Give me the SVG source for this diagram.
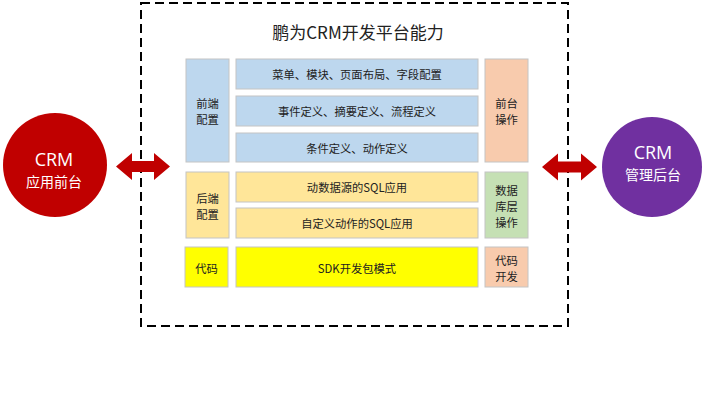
<svg xmlns="http://www.w3.org/2000/svg" width="708" height="420" viewBox="0 0 708 420">
<style>
text{font-family:"Noto Sans CJK SC","Microsoft YaHei","Noto Sans",sans-serif;text-anchor:middle;dominant-baseline:central}
.t{font-size:11.3px;fill:#222}
.box{stroke:#C4C4C4;stroke-width:1}
.blue{fill:#BDD7EE}
.peach{fill:#F8CBAD}
.orange{fill:#FFE699}
.green{fill:#C5E0B4}
.yellow{fill:#FFFF00}
.arrow{fill:#C00000}
.w1{font-size:18px;fill:#fff;font-family:"Open Sans","Noto Sans",sans-serif}
.w2{font-size:14px;fill:#fff}
</style>
<rect width="708" height="420" fill="#fff"/>
<g id="platform">
<rect x="141" y="3" width="427" height="323" fill="none" stroke="#000" stroke-width="2" stroke-dasharray="9 5"/>
<text x="358" y="31" style="font-size:17px;fill:#222">鹏为CRM开发平台能力</text>
</g>
<g id="front-config">
<rect class="box blue" x="186" y="59" width="43" height="103"/>
<text class="t" x="207.5" y="103">前端</text>
<text class="t" x="207.5" y="119">配置</text>
</g>
<g id="menu">
<rect class="box blue" x="236" y="59" width="242" height="30"/>
<text class="t" x="357" y="74">菜单、模块、页面布局、字段配置</text>
</g>
<g id="event">
<rect class="box blue" x="236" y="96" width="242" height="30"/>
<text class="t" x="357" y="111">事件定义、摘要定义、流程定义</text>
</g>
<g id="condition">
<rect class="box blue" x="236" y="133" width="242" height="29"/>
<text class="t" x="357" y="147.5">条件定义、动作定义</text>
</g>
<g id="front-op">
<rect class="box peach" x="485" y="59" width="43" height="103"/>
<text class="t" x="506.5" y="103">前台</text>
<text class="t" x="506.5" y="119">操作</text>
</g>
<g id="back-config">
<rect class="box orange" x="186" y="172" width="43" height="66"/>
<text class="t" x="207.5" y="198">后端</text>
<text class="t" x="207.5" y="214">配置</text>
</g>
<g id="datasource-sql">
<rect class="box orange" x="236" y="172" width="242" height="30"/>
<text class="t" x="357" y="187">动数据源的SQL应用</text>
</g>
<g id="action-sql">
<rect class="box orange" x="236" y="208" width="242" height="30"/>
<text class="t" x="357" y="223">自定义动作的SQL应用</text>
</g>
<g id="db-op">
<rect class="box green" x="485" y="172" width="43" height="66"/>
<text class="t" x="506.5" y="190">数据</text>
<text class="t" x="506.5" y="206">库层</text>
<text class="t" x="506.5" y="222">操作</text>
</g>
<g id="code">
<rect class="box yellow" x="185" y="247" width="43" height="40"/>
<text class="t" x="206.5" y="268">代码</text>
</g>
<g id="sdk">
<rect class="box yellow" x="236" y="247" width="242" height="40"/>
<text class="t" x="357" y="268">SDK开发包模式</text>
</g>
<g id="code-dev">
<rect class="box peach" x="485" y="247" width="43" height="40"/>
<text class="t" x="506.5" y="260">代码</text>
<text class="t" x="506.5" y="276">开发</text>
</g>
<g id="crm-front">
<circle cx="55" cy="165" r="52" fill="#C00000"/>
<text class="w1" x="54" y="159">CRM</text>
<text class="w2" x="54" y="181">应用前台</text>
</g>
<g id="crm-admin">
<circle cx="652" cy="167" r="50" fill="#7030A0"/>
<text class="w1" x="653" y="152">CRM</text>
<text class="w2" x="653" y="174">管理后台</text>
</g>
<g id="connectors">
<polygon class="arrow" points="116,166.5 132,153 132,161 154,161 154,153 170,166.5 154,180 154,172 132,172 132,180"/>
<polygon class="arrow" points="542,167 558,153.5 558,161.5 581,161.5 581,153.5 597,167 581,180.5 581,172.5 558,172.5 558,180.5"/>
</g>
</svg>
